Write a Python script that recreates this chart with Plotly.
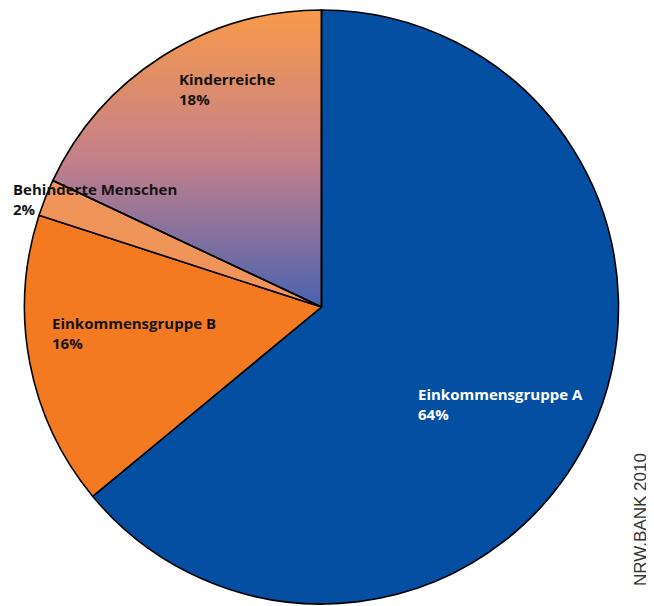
import numpy as np
import plotly.graph_objects as go

labels = ["Einkommensgruppe A", "Einkommensgruppe B", "Behinderte Menschen", "Kinderreiche"]
values = [64, 16, 2, 18]
colors = ["#044fa2", "#f47a21", "#f0955a", "rgba(0,0,0,0)"]
gradient_top = "#f89a4a"
gradient_mid = "#c4808a"
gradient_bottom = "#4a62b0"
label_colors = ["#ffffff", "#141414", "#141414", "#141414"]
source = "NRW.BANK 2010"

OFF = 8  # default page margin of the browser
W, H = 654 - OFF, 606 - OFF
cx, cy, r = 321.5 - OFF, 307 - OFF, 297  # pixel centre (from top) and radius
xdom = [(cx - r) / W, (cx + r) / W]
ydom = [(H - cy - r) / H, (H - cy + r) / H]

fig = go.Figure()

# gradient wedge for the last slice, computed from the cumulative shares
total = sum(values)
start = sum(values[:3]) / total * 2 * np.pi
end = 2 * np.pi
theta = np.linspace(start, end, 200)
wx = np.concatenate([[0], np.sin(theta), [0]])
wy = np.concatenate([[0], np.cos(theta), [0]])
fig.add_trace(go.Scatter(
    x=wx, y=wy, mode="lines", fill="toself", line=dict(width=0),
    fillgradient=dict(type="vertical",
                      colorscale=[[0, gradient_bottom], [0.5, gradient_mid], [1, gradient_top]],
                      start=0, stop=1),
    hoverinfo="skip", showlegend=False,
))

fig.add_trace(go.Pie(
    labels=labels, values=values, sort=False, direction="clockwise", rotation=0,
    marker=dict(colors=colors, line=dict(color="#000000", width=1.6)),
    textinfo="none", hoverinfo="label+percent", showlegend=False,
    domain=dict(x=xdom, y=ydom),
))

# label positions (page pixels: left x, vertical middle y from top)
label_pos = [(416, 404.5), (49.5, 333), (10.5, 199), (177, 89.5)]
for lab, val, col, (px, py) in zip(labels, values, label_colors, label_pos):
    fig.add_annotation(
        x=(px - OFF) / W, y=1 - (py - OFF) / H, xref="paper", yref="paper",
        xanchor="left", yanchor="middle", align="left", showarrow=False,
        text=f"{lab}<br>{val}%",
        font=dict(family="Open Sans", size=15, color=col, weight="bold"),
    )

fig.add_annotation(
    x=(640 - OFF) / W, y=1 - (520 - OFF) / H, xref="paper", yref="paper",
    xanchor="center", yanchor="middle", showarrow=False, textangle=-90,
    text=source, font=dict(family="Liberation Sans, Arial", size=17, color="#333333"),
)

fig.update_layout(
    width=W, height=H, margin=dict(l=0, r=0, t=0, b=0),
    paper_bgcolor="white", plot_bgcolor="rgba(0,0,0,0)",
    xaxis=dict(domain=xdom, range=[-1, 1], visible=False, fixedrange=True),
    yaxis=dict(domain=ydom, range=[-1, 1], visible=False, fixedrange=True),
)

fig.write_html("out.html")
